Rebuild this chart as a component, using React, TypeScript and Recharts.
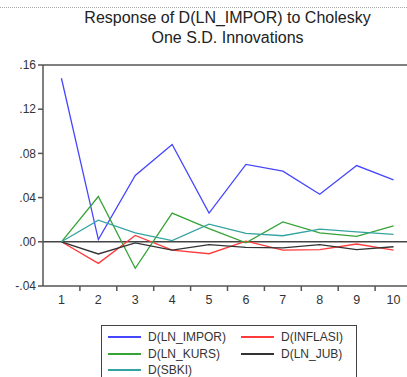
import { LineChart, Line, XAxis, YAxis, ReferenceLine } from 'recharts';

const periods = ['1', '2', '3', '4', '5', '6', '7', '8', '9', '10'];
const lnImpor = [0.148, 0.002, 0.06, 0.088, 0.026, 0.07, 0.064, 0.043, 0.069, 0.056];
const inflasi = [0, -0.0195, 0.0058, -0.0075, -0.0108, 0.0006, -0.0075, -0.007, -0.002, -0.0075];
const lnKurs = [0, 0.041, -0.024, 0.026, 0.012, -0.001, 0.018, 0.008, 0.005, 0.0145];
const lnJub = [0, -0.011, -0.001, -0.0075, -0.0025, -0.005, -0.0055, -0.0025, -0.007, -0.0045];
const sbki = [0, 0.0196, 0.008, 0.001, 0.016, 0.0076, 0.0055, 0.0115, 0.009, 0.0067];

const yTicks = [-0.04, 0, 0.04, 0.08, 0.12, 0.16];
const yTickLabels = ['-.04', '.00', '.04', '.08', '.12', '.16'];

const series = [
  { key: 'impor', name: 'D(LN_IMPOR)', color: '#4646ff' },
  { key: 'inflasi', name: 'D(INFLASI)', color: '#ff3b3b' },
  { key: 'kurs', name: 'D(LN_KURS)', color: '#36a336' },
  { key: 'jub', name: 'D(LN_JUB)', color: '#333333' },
  { key: 'sbki', name: 'D(SBKI)', color: '#36a3a3' },
];

const data = periods.map((p, i) => ({
  period: p,
  impor: lnImpor[i],
  inflasi: inflasi[i],
  kurs: lnKurs[i],
  jub: lnJub[i],
  sbki: sbki[i],
}));

const FONT = '"Liberation Sans", Arial, sans-serif';
const HALF_STEP = 18.45;

const XTick = (props: any) => {
  const { x, y, payload } = props;
  return (
    <g>
      <line x1={x + HALF_STEP} x2={x + HALF_STEP} y1={y - 8} y2={y - 3} stroke="#555" strokeWidth={1.5} />
      <text x={x} y={y + 10} textAnchor="middle" fontSize={12.5} fill="#333" fontFamily={FONT}>
        {payload.value}
      </text>
    </g>
  );
};

const LegendBox = () => (
  <div
    style={{
      position: 'absolute',
      left: 101,
      top: 325,
      border: '1.5px solid #444',
      borderBottom: 'none',
      width: 256,
      height: 52,
      boxSizing: 'border-box',
      fontFamily: FONT,
      fontSize: 12,
      color: '#333',
    }}
  >
    {series.map((s, i) => {
      const col = i % 2;
      const row = Math.floor(i / 2);
      return (
        <div
          key={s.key}
          style={{
            position: 'absolute',
            left: 6 + col * 133,
            top: 4 + row * 16.5,
            display: 'flex',
            alignItems: 'center',
            whiteSpace: 'nowrap',
            lineHeight: '14px',
          }}
        >
          <span style={{ display: 'inline-block', width: 33, height: 0, borderTop: `2px solid ${s.color}`, marginRight: 7 }} />
          {s.name}
        </div>
      );
    })}
  </div>
);

export default function App() {
  return (
    <div style={{ position: 'fixed', left: 0, top: 0, width: 407, height: 377, overflow: 'hidden', background: '#fff' }}>
      <div style={{ position: 'absolute', left: 0, right: 0, top: 7, borderTop: '1px dotted #aaa' }} />
      <div
        style={{
          position: 'absolute',
          left: 43,
          width: 369,
          top: 8,
          textAlign: 'center',
          fontFamily: FONT,
          fontSize: 16,
          lineHeight: '20px',
          color: '#222',
        }}
      >
        Response of D(LN_IMPOR) to Cholesky
        <br />
        One S.D. Innovations
      </div>
      <LineChart width={420} height={377} data={data} margin={{ top: 65, right: 8, bottom: 61, left: 0 }}>
        <XAxis
          dataKey="period"
          height={30}
          padding={{ left: HALF_STEP, right: HALF_STEP }}
          axisLine={{ stroke: '#555', strokeWidth: 1.5 }}
          tickLine={false}
          tick={<XTick />}
          interval={0}
        />
        <YAxis
          width={43}
          domain={[-0.04, 0.16]}
          ticks={yTicks}
          tickFormatter={(v: number) => yTickLabels[yTicks.indexOf(v)] ?? ''}
          axisLine={{ stroke: '#555', strokeWidth: 1.5 }}
          tickLine={{ stroke: '#555', strokeWidth: 1.5 }}
          tickSize={5}
          tick={{ fontSize: 12, fill: '#333', fontFamily: FONT }}
          allowDataOverflow
        />
        <ReferenceLine y={0.16} stroke="#555" strokeWidth={1.5} />
        <ReferenceLine y={0} stroke="#444" strokeWidth={1.5} />
        {series.map((s) => (
          <Line
            key={s.key}
            type="linear"
            dataKey={s.key}
            name={s.name}
            stroke={s.color}
            strokeWidth={1.3}
            dot={false}
            isAnimationActive={false}
          />
        ))}
      </LineChart>
      <LegendBox />
    </div>
  );
}
